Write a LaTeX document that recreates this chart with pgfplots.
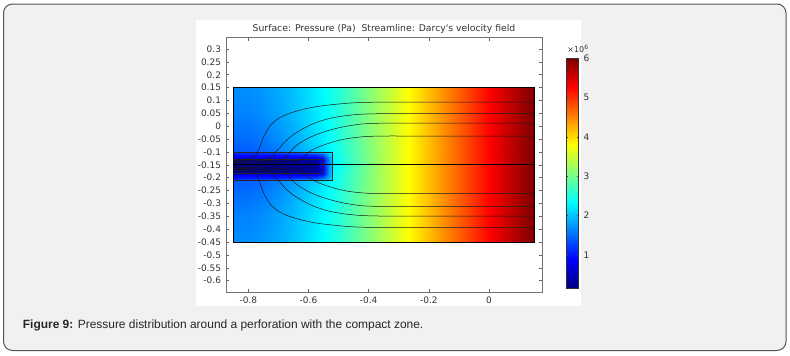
\documentclass[border=0pt]{standalone}
\usepackage{fontspec}
\setmainfont{Liberation Sans}
\newfontfamily\dv{DejaVu Sans}
\usepackage{pgfplots}
\usepackage{pgfplotstable}
\pgfplotsset{compat=1.18}

% Base pressure field (unit: 1e6 Pa), scanlines of constant y
\pgfplotstableread{
x y p
-0.85 -0.45 1.68
-0.80 -0.45 1.70
-0.75 -0.45 1.76
-0.70 -0.45 1.86
-0.65 -0.45 1.99
-0.60 -0.45 2.15
-0.55 -0.45 2.34
-0.50 -0.45 2.57
-0.45 -0.45 2.83
-0.40 -0.45 3.10
-0.35 -0.45 3.37
-0.30 -0.45 3.64
-0.25 -0.45 3.91
-0.20 -0.45 4.18
-0.15 -0.45 4.45
-0.10 -0.45 4.72
-0.05 -0.45 4.99
0.00 -0.45 5.26
0.05 -0.45 5.52
0.10 -0.45 5.77
0.15 -0.45 6.00
-0.85 -0.35 1.62
-0.80 -0.35 1.64
-0.75 -0.35 1.70
-0.70 -0.35 1.81
-0.65 -0.35 1.95
-0.60 -0.35 2.12
-0.55 -0.35 2.32
-0.50 -0.35 2.56
-0.45 -0.35 2.83
-0.40 -0.35 3.10
-0.35 -0.35 3.37
-0.30 -0.35 3.64
-0.25 -0.35 3.91
-0.20 -0.35 4.18
-0.15 -0.35 4.45
-0.10 -0.35 4.72
-0.05 -0.35 4.99
0.00 -0.35 5.26
0.05 -0.35 5.52
0.10 -0.35 5.77
0.15 -0.35 6.00
-0.85 -0.25 1.48
-0.80 -0.25 1.50
-0.75 -0.25 1.57
-0.70 -0.25 1.69
-0.65 -0.25 1.85
-0.60 -0.25 2.04
-0.55 -0.25 2.27
-0.50 -0.25 2.52
-0.45 -0.25 2.81
-0.40 -0.25 3.10
-0.35 -0.25 3.37
-0.30 -0.25 3.64
-0.25 -0.25 3.91
-0.20 -0.25 4.18
-0.15 -0.25 4.45
-0.10 -0.25 4.72
-0.05 -0.25 4.99
0.00 -0.25 5.26
0.05 -0.25 5.52
0.10 -0.25 5.77
0.15 -0.25 6.00
-0.85 -0.20 1.38
-0.80 -0.20 1.40
-0.75 -0.20 1.47
-0.70 -0.20 1.60
-0.65 -0.20 1.77
-0.60 -0.20 1.97
-0.55 -0.20 2.20
-0.50 -0.20 2.47
-0.45 -0.20 2.78
-0.40 -0.20 3.08
-0.35 -0.20 3.37
-0.30 -0.20 3.64
-0.25 -0.20 3.91
-0.20 -0.20 4.18
-0.15 -0.20 4.45
-0.10 -0.20 4.72
-0.05 -0.20 4.99
0.00 -0.20 5.26
0.05 -0.20 5.52
0.10 -0.20 5.77
0.15 -0.20 6.00
-0.85 -0.15 1.30
-0.80 -0.15 1.32
-0.75 -0.15 1.40
-0.70 -0.15 1.53
-0.65 -0.15 1.70
-0.60 -0.15 1.90
-0.55 -0.15 2.12
-0.50 -0.15 2.40
-0.45 -0.15 2.74
-0.40 -0.15 3.06
-0.35 -0.15 3.36
-0.30 -0.15 3.64
-0.25 -0.15 3.91
-0.20 -0.15 4.18
-0.15 -0.15 4.45
-0.10 -0.15 4.72
-0.05 -0.15 4.99
0.00 -0.15 5.26
0.05 -0.15 5.52
0.10 -0.15 5.77
0.15 -0.15 6.00
-0.85 -0.10 1.38
-0.80 -0.10 1.40
-0.75 -0.10 1.47
-0.70 -0.10 1.60
-0.65 -0.10 1.77
-0.60 -0.10 1.97
-0.55 -0.10 2.20
-0.50 -0.10 2.47
-0.45 -0.10 2.78
-0.40 -0.10 3.08
-0.35 -0.10 3.37
-0.30 -0.10 3.64
-0.25 -0.10 3.91
-0.20 -0.10 4.18
-0.15 -0.10 4.45
-0.10 -0.10 4.72
-0.05 -0.10 4.99
0.00 -0.10 5.26
0.05 -0.10 5.52
0.10 -0.10 5.77
0.15 -0.10 6.00
-0.85 -0.05 1.48
-0.80 -0.05 1.50
-0.75 -0.05 1.57
-0.70 -0.05 1.69
-0.65 -0.05 1.85
-0.60 -0.05 2.04
-0.55 -0.05 2.27
-0.50 -0.05 2.52
-0.45 -0.05 2.81
-0.40 -0.05 3.10
-0.35 -0.05 3.37
-0.30 -0.05 3.64
-0.25 -0.05 3.91
-0.20 -0.05 4.18
-0.15 -0.05 4.45
-0.10 -0.05 4.72
-0.05 -0.05 4.99
0.00 -0.05 5.26
0.05 -0.05 5.52
0.10 -0.05 5.77
0.15 -0.05 6.00
-0.85 0.05 1.62
-0.80 0.05 1.64
-0.75 0.05 1.70
-0.70 0.05 1.81
-0.65 0.05 1.95
-0.60 0.05 2.12
-0.55 0.05 2.32
-0.50 0.05 2.56
-0.45 0.05 2.83
-0.40 0.05 3.10
-0.35 0.05 3.37
-0.30 0.05 3.64
-0.25 0.05 3.91
-0.20 0.05 4.18
-0.15 0.05 4.45
-0.10 0.05 4.72
-0.05 0.05 4.99
0.00 0.05 5.26
0.05 0.05 5.52
0.10 0.05 5.77
0.15 0.05 6.00
-0.85 0.15 1.68
-0.80 0.15 1.70
-0.75 0.15 1.76
-0.70 0.15 1.86
-0.65 0.15 1.99
-0.60 0.15 2.15
-0.55 0.15 2.34
-0.50 0.15 2.57
-0.45 0.15 2.83
-0.40 0.15 3.10
-0.35 0.15 3.37
-0.30 0.15 3.64
-0.25 0.15 3.91
-0.20 0.15 4.18
-0.15 0.15 4.45
-0.10 0.15 4.72
-0.05 0.15 4.99
0.00 0.15 5.26
0.05 0.15 5.52
0.10 0.15 5.77
0.15 0.15 6.00
}\basefield

% Compact zone around the perforation
\pgfplotstableread{
x y p
-0.85 -0.210 1.30
-0.70 -0.210 1.50
-0.575 -0.210 1.95
-0.553 -0.210 2.10
-0.54 -0.210 2.18
-0.52 -0.210 2.30
-0.85 -0.202 1.00
-0.70 -0.202 1.05
-0.575 -0.202 1.25
-0.553 -0.202 1.50
-0.54 -0.202 1.80
-0.52 -0.202 2.25
-0.85 -0.190 0.85
-0.70 -0.190 0.85
-0.575 -0.190 0.90
-0.553 -0.190 1.10
-0.54 -0.190 1.55
-0.52 -0.190 2.20
-0.85 -0.184 0.60
-0.70 -0.184 0.60
-0.575 -0.184 0.65
-0.553 -0.184 0.95
-0.54 -0.184 1.50
-0.52 -0.184 2.20
-0.85 -0.178 0.22
-0.70 -0.178 0.22
-0.575 -0.178 0.30
-0.553 -0.178 0.90
-0.54 -0.178 1.45
-0.52 -0.178 2.20
-0.85 -0.155 0.15
-0.70 -0.155 0.15
-0.575 -0.155 0.25
-0.553 -0.155 0.85
-0.54 -0.155 1.45
-0.52 -0.155 2.20
-0.85 -0.132 0.22
-0.70 -0.132 0.22
-0.575 -0.132 0.30
-0.553 -0.132 0.90
-0.54 -0.132 1.45
-0.52 -0.132 2.20
-0.85 -0.126 0.60
-0.70 -0.126 0.60
-0.575 -0.126 0.65
-0.553 -0.126 0.95
-0.54 -0.126 1.50
-0.52 -0.126 2.20
-0.85 -0.120 0.85
-0.70 -0.120 0.85
-0.575 -0.120 0.90
-0.553 -0.120 1.10
-0.54 -0.120 1.55
-0.52 -0.120 2.20
-0.85 -0.108 1.00
-0.70 -0.108 1.05
-0.575 -0.108 1.25
-0.553 -0.108 1.50
-0.54 -0.108 1.80
-0.52 -0.108 2.25
-0.85 -0.100 1.30
-0.70 -0.100 1.50
-0.575 -0.100 1.95
-0.553 -0.100 2.10
-0.54 -0.100 2.18
-0.52 -0.100 2.30
}\compactzone

\definecolor{panelbg}{HTML}{F1F1F1}
\definecolor{panelframe}{HTML}{555555}
\definecolor{txt}{HTML}{333333}

\begin{document}
\begin{tikzpicture}
\useasboundingbox (0,0) rectangle (790bp,-356bp);
\fill[panelbg, draw=panelframe, line width=1bp, rounded corners=9bp] (3.5bp,-4bp) rectangle (786bp,-350.5bp);
\fill[white] (196bp,-20bp) rectangle (581bp,-306bp);

\begin{axis}[
  at={(226bp,-292bp)}, anchor=south west,
  scale only axis, width=316bp, height=254.3bp,
  xmin=-0.874, xmax=0.176, ymin=-0.644, ymax=0.344,
  colormap/jet,
  point meta min=0.15, point meta max=6,
  axis line style={draw=black!55, line width=0.7bp},
  every tick/.style={draw=black!60, line width=0.6bp},
  major tick length=3bp,
  tick align=inside,
  xtick={-0.8,-0.6,-0.4,-0.2,0},
  xticklabels={-0.8,-0.6,-0.4,-0.2,0},
  ytick={-0.6,-0.55,-0.5,-0.45,-0.4,-0.35,-0.3,-0.25,-0.2,-0.15,-0.1,-0.05,0,0.05,0.1,0.15,0.2,0.25,0.3},
  yticklabels={-0.6,-0.55,-0.5,-0.45,-0.4,-0.35,-0.3,-0.25,-0.2,-0.15,-0.1,-0.05,0,0.05,0.1,0.15,0.2,0.25,0.3},
  ticklabel style={font=\dv\fontsize{9}{10}\selectfont, text=txt},
  yticklabel style={xshift=-1.5bp},
  xticklabel style={yshift=-1bp},
  colorbar,
  colorbar style={
    at={(parent axis.south east)}, anchor=south west,
    xshift=15.7bp, yshift=3.7bp,
    scale only axis, width=12.3bp, height=230bp,
    ytick={1,2,3,4,5,6}, yticklabels={1,2,3,4,5,6},
    ticklabel style={font=\dv\fontsize{9}{10}\selectfont, text=txt},
    yticklabel style={xshift=1.5bp},
    axis line style={draw=black!80, line width=0.7bp},
    every tick/.style={draw=black!70, line width=0.5bp},
    major tick length=2bp,
  },
]
\addplot [surf, shader=interp, mesh/cols=21, point meta=explicit] table [x=x, y=y, meta=p] {\basefield};
\addplot [surf, shader=interp, mesh/cols=6, point meta=explicit] table [x=x, y=y, meta=p] {\compactzone};

% domain, compact zone and perforation outlines
\addplot [black, line width=0.6bp] coordinates {(-0.85,0.15) (0.15,0.15) (0.15,-0.45) (-0.85,-0.45) (-0.85,0.15)};
\addplot [black!85, line width=0.5bp] coordinates {(-0.85,-0.10) (-0.52,-0.10) (-0.52,-0.21) (-0.85,-0.21)};
\addplot [black!85, line width=0.4bp] coordinates {(-0.85,-0.127) (-0.553,-0.127) (-0.553,-0.183) (-0.85,-0.183)};

% streamlines (Darcy velocity)
\addplot [black!90, line width=0.5bp, smooth] coordinates {(0.15,0.094) (0.05,0.094) (-0.05,0.094) (-0.15,0.094) (-0.25,0.094) (-0.35,0.094) (-0.45,0.091) (-0.52,0.084) (-0.58,0.075) (-0.63,0.062) (-0.67,0.047) (-0.70,0.030) (-0.725,0.005) (-0.742,-0.025) (-0.754,-0.055) (-0.763,-0.085) (-0.769,-0.10) (-0.78,-0.118) (-0.81,-0.127) (-0.85,-0.13)};
\addplot [black!90, line width=0.5bp, smooth] coordinates {(0.15,0.049) (0.05,0.049) (-0.05,0.049) (-0.15,0.049) (-0.25,0.049) (-0.35,0.049) (-0.42,0.047) (-0.47,0.042) (-0.52,0.033) (-0.555,0.022) (-0.586,0.009) (-0.62,-0.011) (-0.653,-0.035) (-0.68,-0.062) (-0.697,-0.086) (-0.710,-0.10) (-0.72,-0.118) (-0.75,-0.128) (-0.85,-0.133)};
\addplot [black!90, line width=0.5bp, smooth] coordinates {(0.15,0.012) (0.05,0.012) (-0.05,0.012) (-0.15,0.012) (-0.25,0.012) (-0.35,0.012) (-0.42,0.009) (-0.475,0.000) (-0.52,-0.012) (-0.564,-0.028) (-0.60,-0.046) (-0.631,-0.067) (-0.65,-0.085) (-0.661,-0.10) (-0.675,-0.118) (-0.70,-0.13) (-0.85,-0.137)};
\addplot [black!90, line width=0.5bp, smooth] coordinates {(0.15,-0.038) (0.05,-0.038) (-0.05,-0.038) (-0.15,-0.038) (-0.25,-0.038) (-0.35,-0.038) (-0.41,-0.040) (-0.46,-0.046) (-0.50,-0.055) (-0.54,-0.069) (-0.57,-0.082) (-0.59,-0.094) (-0.604,-0.105) (-0.615,-0.118) (-0.64,-0.133) (-0.85,-0.142)};
\addplot [black!90, line width=0.5bp, smooth] coordinates {(0.15,-0.394) (0.05,-0.394) (-0.05,-0.394) (-0.15,-0.394) (-0.25,-0.394) (-0.35,-0.394) (-0.45,-0.391) (-0.52,-0.384) (-0.58,-0.375) (-0.63,-0.362) (-0.67,-0.347) (-0.70,-0.330) (-0.725,-0.305) (-0.742,-0.275) (-0.754,-0.245) (-0.763,-0.215) (-0.769,-0.20) (-0.78,-0.182) (-0.81,-0.173) (-0.85,-0.17)};
\addplot [black!90, line width=0.5bp, smooth] coordinates {(0.15,-0.349) (0.05,-0.349) (-0.05,-0.349) (-0.15,-0.349) (-0.25,-0.349) (-0.35,-0.349) (-0.42,-0.347) (-0.47,-0.342) (-0.52,-0.333) (-0.555,-0.322) (-0.586,-0.309) (-0.62,-0.289) (-0.653,-0.265) (-0.68,-0.238) (-0.697,-0.214) (-0.710,-0.20) (-0.72,-0.182) (-0.75,-0.172) (-0.85,-0.167)};
\addplot [black!90, line width=0.5bp, smooth] coordinates {(0.15,-0.312) (0.05,-0.312) (-0.05,-0.312) (-0.15,-0.312) (-0.25,-0.312) (-0.35,-0.312) (-0.42,-0.309) (-0.475,-0.300) (-0.52,-0.288) (-0.564,-0.272) (-0.60,-0.254) (-0.631,-0.233) (-0.65,-0.215) (-0.661,-0.20) (-0.675,-0.182) (-0.70,-0.17) (-0.85,-0.163)};
\addplot [black!90, line width=0.5bp, smooth] coordinates {(0.15,-0.262) (0.05,-0.262) (-0.05,-0.262) (-0.15,-0.262) (-0.25,-0.262) (-0.35,-0.262) (-0.41,-0.260) (-0.46,-0.254) (-0.50,-0.245) (-0.54,-0.231) (-0.57,-0.218) (-0.59,-0.206) (-0.604,-0.195) (-0.615,-0.182) (-0.64,-0.167) (-0.85,-0.158)};
\addplot [black, line width=0.8bp] coordinates {(-0.85,-0.15) (0.15,-0.15)};
\end{axis}

\node[font=\dv\fontsize{9.3}{11}\selectfont, text=txt] at (384bp,-29bp) {Surface: Pressure (Pa)\ \ Streamline: Darcy's velocity field};
\node[font=\dv\fontsize{8}{9}\selectfont, text=txt] at (578bp,-48.5bp) {×10\textsuperscript{6}};
\node[anchor=west, font=\fontsize{12}{14}\selectfont, text=black!85, inner sep=0pt] at (22.7bp,-325bp) {\textbf{Figure 9:} Pressure distribution around a perforation with the compact zone.};
\end{tikzpicture}
\end{document}
